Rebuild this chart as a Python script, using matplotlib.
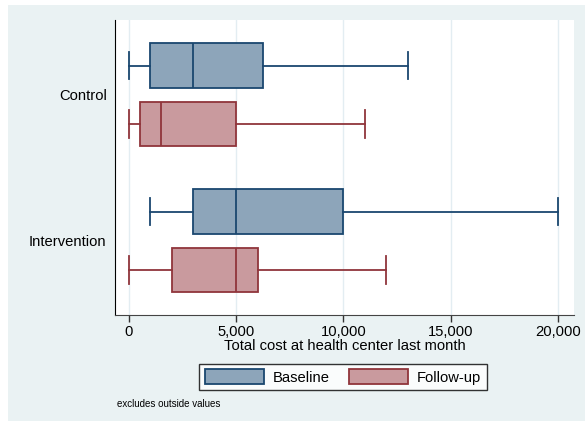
import numpy as np
import matplotlib.pyplot as plt
from matplotlib.patches import Rectangle, Patch

plt.rcParams['font.family'] = ['Liberation Sans', 'DejaVu Sans']

groups = ["Control", "Intervention"]
series = ["Baseline", "Follow-up"]

# whisker low, q1, median, q3, whisker high
baseline_low = [0, 1000]
baseline_q1 = [1000, 3000]
baseline_med = [3000, 5000]
baseline_q3 = [6250, 10000]
baseline_high = [13000, 20000]

followup_low = [0, 0]
followup_q1 = [500, 2000]
followup_med = [1500, 5000]
followup_q3 = [5000, 6000]
followup_high = [11000, 12000]

xticks = [0, 5000, 10000, 15000, 20000]

fills = ["#8DA5BA", "#C99A9E"]
edges = ["#1A476F", "#90353B"]

fig = plt.figure(figsize=(5.85, 4.21), dpi=100)
fig.patch.set_facecolor("white")
fig.patches.append(Rectangle((8 / 585, 0), 1, 416 / 421, transform=fig.transFigure,
                             facecolor="#EAF2F3", edgecolor="none", zorder=-10))

ax = fig.add_axes([115 / 585, 1 - 315 / 421, (574 - 115) / 585, (315 - 20) / 421])
ax.set_facecolor("white")

offset = 0.2
data = [
    (baseline_low, baseline_q1, baseline_med, baseline_q3, baseline_high),
    (followup_low, followup_q1, followup_med, followup_q3, followup_high),
]
for s, (lo, q1, med, q3, hi) in enumerate(data):
    stats = []
    for g in range(len(groups)):
        stats.append(dict(whislo=lo[g], q1=q1[g], med=med[g], q3=q3[g], whishi=hi[g], fliers=[]))
    pos = [g + (offset if s else -offset) for g in range(len(groups))]
    ax.bxp(stats, positions=pos, widths=0.305, capwidths=0.19, orientation="horizontal",
           patch_artist=True, showfliers=False,
           boxprops=dict(facecolor=fills[s], edgecolor=edges[s], linewidth=1.3),
           medianprops=dict(color=edges[s], linewidth=1.3),
           whiskerprops=dict(color=edges[s], linewidth=1.3),
           capprops=dict(color=edges[s], linewidth=1.3))

ax.set_ylim(1.508, -0.512)
ax.set_xlim(-650, 20750)
ax.set_yticks(range(len(groups)))
ax.set_yticklabels(groups, fontsize=10.6)
ax.tick_params(axis="y", length=0, pad=6)
ax.set_xticks(xticks)
ax.set_xticklabels([f"{v:,}" for v in xticks], fontsize=10.6)
ax.tick_params(axis="x", length=5, width=1, color="#333333", pad=2)
ax.grid(axis="x", color="#E3EDF2", linewidth=1)
ax.set_axisbelow(True)
ax.spines["top"].set_visible(False)
ax.spines["right"].set_visible(False)
ax.spines["left"].set_color("black")
ax.spines["bottom"].set_color("#444444")
ax.set_xlabel("Total cost at health center last month", fontsize=10.6, labelpad=0)

handles = [Patch(facecolor=fills[i], edgecolor=edges[i], linewidth=1.3) for i in range(2)]
leg = fig.legend(handles, series, loc="center", bbox_to_anchor=(343 / 585, 1 - 377 / 421),
                 ncol=2, fontsize=10.6, frameon=True, fancybox=False, edgecolor="black",
                 handlelength=4.0, handleheight=1.1, handletextpad=0.6, columnspacing=1.3,
                 borderpad=0.4, borderaxespad=0)
leg.get_frame().set_linewidth(1)

fig.text(117 / 585, 1 - 404 / 421, "excludes outside values", fontsize=7, va="center")

fig.savefig("out.png", dpi=100)
